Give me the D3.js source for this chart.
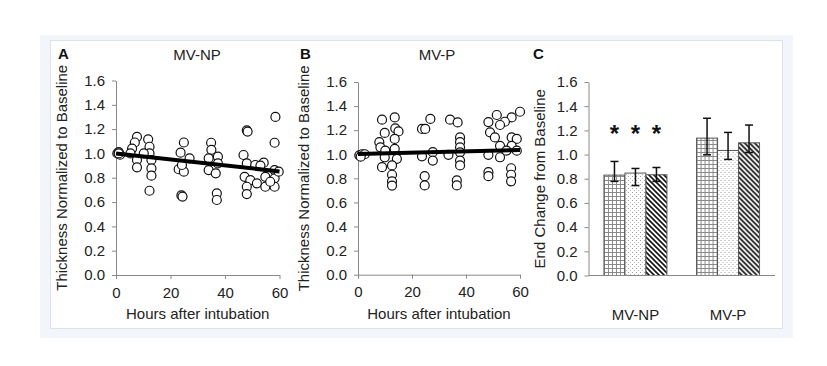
<!DOCTYPE html>
<html><head><meta charset="utf-8">
<script src="https://cdn.jsdelivr.net/npm/d3@7"></script>
<style>html,body{margin:0;padding:0;background:#fff;}svg{display:block;font-family:"Liberation Sans",Arial,sans-serif;}</style>
</head><body><div id="chart"></div>
<script>
// ---- data ----
const hoursA = [0.5,1,1.5,1,7.7,6.9,5.9,5.3,7.7,7.7,11.8,12.3,12.3,10.2,13,13,13,12.3,24.9,23.7,27,23,24.9,24.2,24,24.4,
  58.5,48,48.3,58.2,34.9,35,34,37.4,37.4,34,36.6,37,37,46.8,48,51.1,54.2,47.2,49.3,48,48,51.7,54.8,54.8,58.2,58.2,58.2,56.6,59.7,53];
const valuesA = [1.0,1.01,0.99,1.0,1.137,1.09,1.04,1.0,0.946,0.886,1.116,1.055,1.0,1.0,0.946,0.877,0.817,0.693,1.09,1.006,0.96,0.87,0.85,0.905,0.655,0.645,
  1.30,1.19,1.18,1.088,1.088,1.03,0.96,0.973,0.918,0.863,0.836,0.672,0.617,0.987,0.918,0.905,0.924,0.808,0.78,0.726,0.666,0.754,0.808,0.726,0.863,0.795,0.726,0.767,0.85,0.90];
const hoursB = [0.5,1.5,2.5,1,8.9,13.6,9.9,13.8,15,7.9,13.6,8.3,10.1,13.6,9.9,14.4,8.9,12.6,12.6,12.6,12.6,26.8,23.7,24.9,23.7,27.7,27.7,24.7,24.7,
  34.1,36.9,37.8,37.8,37.8,37.8,37.8,37.8,33.5,36.6,36.6,48.3,51.4,60,56.9,54.4,52.6,48.9,50.7,56.9,58.8,52.6,56.9,48.3,52.6,55,58.8,48.3,48.3,56.7,56.7,56.7];
const valuesB = [0.99,1.0,1.0,0.98,1.287,1.306,1.177,1.215,1.19,1.1,1.127,1.058,1.03,1.045,0.975,0.962,0.893,0.907,0.83,0.775,0.74,1.293,1.21,1.21,0.983,1.017,0.948,0.818,0.741,
  1.287,1.264,1.14,1.1,1.058,1.016,0.948,0.907,0.995,0.783,0.741,1.267,1.326,1.353,1.306,1.27,1.243,1.182,1.14,1.14,1.127,1.07,1.07,0.995,0.975,1.03,1.03,0.851,0.818,0.884,0.83,0.775];
const trendA = [1.0, 0.852];   // fitted value at 0 h and 60 h
const trendB = [1.003, 1.035];
const groups = ["MV-NP","MV-P"];
const barSeries = ["grid","dots","stripes"];
const barValues = [[0.83,0.847,0.833],[1.136,1.034,1.097]];
const errUpper = [[0.943,0.885,0.893],[1.30,1.183,1.244]];
const errLower = [[0.778,0.744,0.778],[0.998,0.96,1.017]];
const stars = ["*","*","*"];
const yTicks = [0,0.2,0.4,0.6,0.8,1.0,1.2,1.4,1.6];
const xTicks = [0,20,40,60];

// ---- drawing ----
const W=827,H=366, FS=15;
const svg=d3.select("#chart").append("svg").attr("width",W).attr("height",H);
svg.append("rect").attr("x",40).attr("y",35).attr("width",753).attr("height",303).attr("fill","#f2f5f9");
svg.append("rect").attr("x",50.5).attr("y",40.5).attr("width",732).attr("height",288).attr("fill","#fff").attr("stroke","#dde2e8");

const defs=svg.append("defs");
const pg=defs.append("pattern").attr("id","grid").attr("patternUnits","userSpaceOnUse").attr("width",4).attr("height",4);
pg.append("rect").attr("width",4).attr("height",4).attr("fill","#fff");
pg.append("path").attr("d","M0,0.5H4M0.5,0V4").attr("stroke","#8a8a8a").attr("stroke-width",1);
const pd=defs.append("pattern").attr("id","dots").attr("patternUnits","userSpaceOnUse").attr("width",4).attr("height",4);
pd.append("rect").attr("width",4).attr("height",4).attr("fill","#fff");
pd.append("rect").attr("x",0).attr("y",0).attr("width",1).attr("height",1).attr("fill","#999");
pd.append("rect").attr("x",2).attr("y",2).attr("width",1).attr("height",1).attr("fill","#bbb");
const ps=defs.append("pattern").attr("id","stripes").attr("patternUnits","userSpaceOnUse").attr("width",5).attr("height",5);
ps.append("rect").attr("width",5).attr("height",5).attr("fill","#fff");
ps.append("path").attr("d","M-1,-1L6,6M-1,4L1,6M4,-1L6,1").attr("stroke","#111").attr("stroke-width",1.6);

const axisColor="#888";
function styleAxis(g){
  g.select(".domain").attr("stroke",axisColor).attr("stroke-width",1);
  g.selectAll(".tick line").attr("stroke",axisColor);
  g.selectAll(".tick text").attr("fill","#222").attr("font-size",FS).attr("font-family","Liberation Sans, Arial, sans-serif");
}

function scatterPanel(opt){
  const x=d3.scaleLinear().domain([0,60]).range([opt.x0,opt.x1]);
  const y=d3.scaleLinear().domain([0,1.6]).range([opt.y0,opt.y1]);
  const gy=svg.append("g").attr("transform",`translate(${opt.x0},0)`).call(d3.axisLeft(y).tickValues(yTicks).tickFormat(d3.format(".1f")).tickSize(4).tickSizeOuter(0).tickPadding(7));
  styleAxis(gy);
  const gx=svg.append("g").attr("transform",`translate(0,${opt.y0})`).call(d3.axisBottom(x).tickValues(xTicks).tickSize(4).tickSizeOuter(0).tickPadding(8));
  styleAxis(gx);
  svg.append("g").selectAll("circle").data(opt.h.map((h,i)=>[h,opt.v[i]])).join("circle")
    .attr("cx",d=>x(d[0])).attr("cy",d=>y(d[1])).attr("r",4.5)
    .attr("fill","#fff").attr("stroke","#111").attr("stroke-width",1.2);
  svg.append("line").attr("x1",x(0)).attr("x2",x(60)).attr("y1",y(opt.t[0])).attr("y2",y(opt.t[1]))
    .attr("stroke","#000").attr("stroke-width",4);
  svg.append("text").attr("x",opt.letterX).attr("y",59).text(opt.letter).attr("font-weight","bold").attr("font-size",FS).attr("fill","#111");
  svg.append("text").attr("x",opt.titleX).attr("y",60).attr("text-anchor","middle").text(opt.title).attr("font-size",FS).attr("fill","#222");
  svg.append("text").attr("x",(opt.x0+opt.x1)/2).attr("y",319).attr("text-anchor","middle").text("Hours after intubation").attr("font-size",FS).attr("fill","#222");
  svg.append("text").attr("transform",`translate(${opt.labX},${(opt.y0+opt.y1)/2}) rotate(-90)`).attr("text-anchor","middle")
    .text("Thickness Normalized to Baseline").attr("font-size",FS).attr("fill","#222");
}
scatterPanel({x0:116,x1:279.5,y0:275,y1:80.5,h:hoursA,v:valuesA,t:trendA,letter:"A",letterX:58,title:"MV-NP",titleX:197,labX:67});
scatterPanel({x0:358,x1:520,y0:274.7,y1:82,h:hoursB,v:valuesB,t:trendB,letter:"B",letterX:300,title:"MV-P",titleX:437,labX:309});

// Panel C
const cx0=588.5, cx1=775;
const yC=d3.scaleLinear().domain([0,1.6]).range([275.5,82]);
const xG=d3.scaleBand().domain(groups).range([cx0,cx1]).paddingInner(0.32).paddingOuter(0.167);
const xS=d3.scaleBand().domain(barSeries).range([0,xG.bandwidth()]);
const gyC=svg.append("g").attr("transform",`translate(${cx0},0)`).call(d3.axisLeft(yC).tickValues(yTicks).tickFormat(d3.format(".1f")).tickSize(4).tickSizeOuter(0).tickPadding(7));
styleAxis(gyC);
groups.forEach((g,gi)=>{
  const gg=svg.append("g").attr("transform",`translate(${xG(g)},0)`);
  barSeries.forEach((s,si)=>{
    gg.append("rect").attr("x",xS(s)).attr("y",yC(barValues[gi][si])).attr("width",xS.bandwidth())
      .attr("height",yC(0)-yC(barValues[gi][si])).attr("fill",`url(#${s})`).attr("stroke","#555").attr("stroke-width",1);
  });
  barSeries.forEach((s,si)=>{
    const cx=xS(s)+xS.bandwidth()/2;
    gg.append("line").attr("x1",cx).attr("x2",cx).attr("y1",yC(errUpper[gi][si])).attr("y2",yC(errLower[gi][si])).attr("stroke","#111").attr("stroke-width",1.5);
    [errUpper[gi][si],errLower[gi][si]].forEach(v=>gg.append("line").attr("x1",cx-4).attr("x2",cx+4).attr("y1",yC(v)).attr("y2",yC(v)).attr("stroke","#111").attr("stroke-width",1.5));
  });
  svg.append("text").attr("x",xG(g)+xG.bandwidth()/2).attr("y",320).attr("text-anchor","middle").text(g).attr("font-size",FS).attr("fill","#222");
});
stars.forEach((s,si)=>{
  svg.append("text").attr("x",xG(groups[0])+xS(barSeries[si])+xS.bandwidth()/2).attr("y",yC(1.2)+12).attr("text-anchor","middle")
    .text(s).attr("font-size",24).attr("font-weight","bold").attr("fill","#111");
});
svg.append("line").attr("x1",cx0).attr("x2",cx1).attr("y1",yC(0)).attr("y2",yC(0)).attr("stroke",axisColor);
svg.append("text").attr("x",533).attr("y",59).text("C").attr("font-weight","bold").attr("font-size",FS).attr("fill","#111");
svg.append("text").attr("transform",`translate(545,${(275.5+82)/2}) rotate(-90)`).attr("text-anchor","middle")
  .text("End Change from Baseline").attr("font-size",FS).attr("fill","#222");
</script></body></html>
